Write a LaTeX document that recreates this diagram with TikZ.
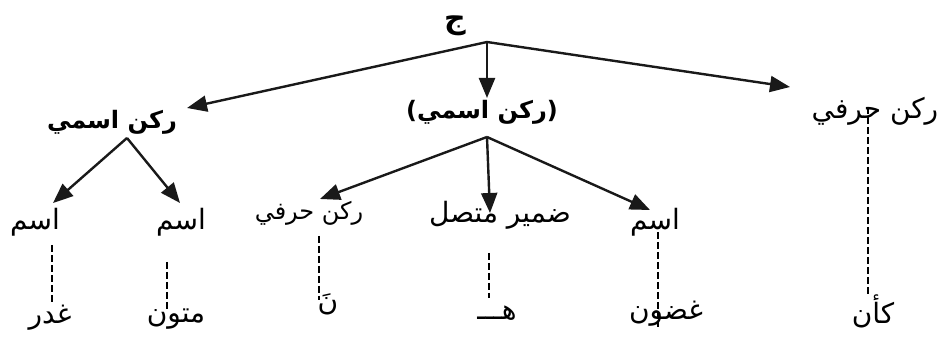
\documentclass[tikz,border=0pt]{standalone}
\usepackage{fontspec}
\newfontfamily\arabicfont[Script=Arabic]{DejaVu Sans}
\TeXXeTstate=1
\usetikzlibrary{arrows.meta}
\begin{document}
\begin{tikzpicture}[x=1pt,y=-1pt,
  lbl/.style={inner sep=0pt, font=\arabicfont\fontsize{28}{32}\selectfont},
  blbl/.style={lbl, font=\arabicfont\bfseries\fontsize{24}{28}\selectfont},
  arr/.style={line width=2.4pt, draw=black!90, -{Triangle[length=20pt,width=16pt]}},
  dsh/.style={line width=1.7pt, dash pattern=on 7pt off 3pt}]
\useasboundingbox (0,0) rectangle (946,347);
% top
\node[lbl, font=\arabicfont\bfseries\fontsize{30}{32}\selectfont] (J) at (455,26) {\beginR ج\endR};
\coordinate (apex) at (487,42);
% level 1
\node[blbl] (L1) at (112,122) {\beginR ركن اسمي\endR};
\node[blbl] (M1) at (482,112) {)\beginR ركن اسمي\endR(};
\node[lbl] (R1) at (875,111) {\beginR ركن حرفي\endR};
\coordinate (L1in) at (187,108);
\coordinate (M1in) at (487,98);
\coordinate (R1in) at (790,87);
\coordinate (L1out) at (127,138);
\coordinate (M1out) at (487,137);
% level 2
\node[lbl] (L2a) at (35,222) {\beginR اسم\endR};
\node[lbl] (L2b) at (181,222) {\beginR اسم\endR};
\node[lbl, font=\arabicfont\fontsize{24}{27}\selectfont] (M2a) at (309,213) {\beginR ركن حرفي\endR};
\node[lbl] (M2b) at (500,215) {\beginR ضمير متصل\endR};
\node[lbl] (M2c) at (655,222) {\beginR اسم\endR};
\coordinate (L2ain) at (53,203);
\coordinate (L2bin) at (180,203);
\coordinate (M2ain) at (320,199);
\coordinate (M2bin) at (490,213);
\coordinate (M2cin) at (650,210);
% level 3
\node[lbl] (B1) at (50,318) {\beginR غدر\endR};
\node[lbl] (B2) at (176,319) {\beginR متون\endR};
\node[lbl] (B3) at (328,304) {\beginR نَ\endR};
\node[lbl] (B4) at (497,313) {\beginR هـــ\endR};
\node[lbl] (B5) at (666,314) {\beginR غضون\endR};
\node[lbl] (B6) at (873,311) {\beginR كأن\endR};
% arrows
\draw[arr] (apex) -- (L1in);
\draw[arr] (apex) -- (M1in);
\draw[arr] (apex) -- (R1in);
\draw[arr] (L1out) -- (L2ain);
\draw[arr] (L1out) -- (L2bin);
\draw[arr] (M1out) -- (M2ain);
\draw[arr] (M1out) -- (M2bin);
\draw[arr] (M1out) -- (M2cin);
% dashed links
\coordinate (d1a) at (52,245);  \coordinate (d1b) at (52,302);
\coordinate (d2a) at (167,262); \coordinate (d2b) at (167,312);
\coordinate (d3a) at (319,236); \coordinate (d3b) at (319,300);
\coordinate (d4a) at (489,253); \coordinate (d4b) at (489,298);
\coordinate (d5a) at (658,232); \coordinate (d5b) at (658,327);
\coordinate (d6a) at (868,107); \coordinate (d6b) at (868,295);
\draw[dsh] (d1a) -- (d1b);
\draw[dsh] (d2a) -- (d2b);
\draw[dsh] (d3a) -- (d3b);
\draw[dsh] (d4a) -- (d4b);
\draw[dsh] (d5a) -- (d5b);
\draw[dsh] (d6a) -- (d6b);
\end{tikzpicture}
\end{document}
